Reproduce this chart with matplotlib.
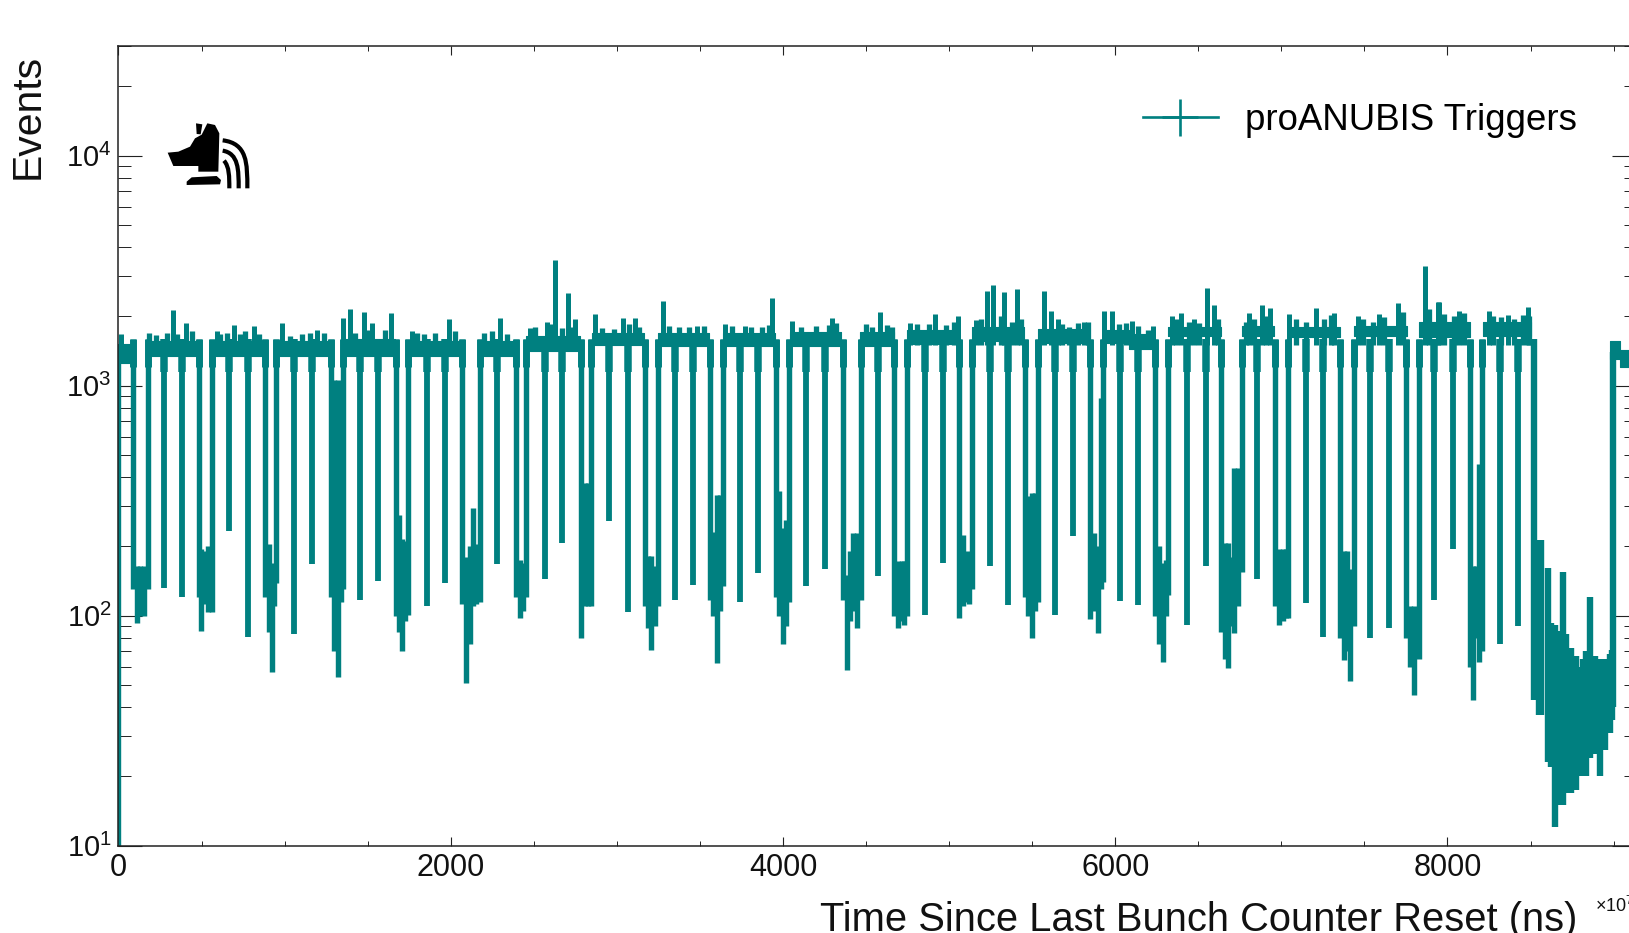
import matplotlib
matplotlib.use("Agg")
import matplotlib.pyplot as plt
import numpy as np
from matplotlib.patches import PathPatch, Polygon
from matplotlib.path import Path
from matplotlib.ticker import LogLocator, MultipleLocator, NullFormatter
from matplotlib.transforms import Affine2D

TEAL = "#008080"
X_LABEL = "Time Since Last Bunch Counter Reset (ns)"
Y_LABEL = "Events"
LEGEND_LABEL = "proANUBIS Triggers"

# Plateau bands between the long gaps (start, stop in time, lowest and highest counts)
band_start = [0, 165, 565, 945, 1345, 1735, 2165, 2445, 2840, 3235, 3625, 4025, 4445, 4725, 5115,
              5515, 5905, 6060, 6295, 6735, 7015, 7405, 7795, 8180, 8945, 9000]
band_stop = [92, 470, 860, 1270, 1660, 2060, 2380, 2770, 3150, 3540, 3935, 4330, 4650, 5040, 5430,
             5820, 6060, 6205, 6610, 6930, 7325, 7725, 8105, 8470, 9000, 9110]
band_low = [1250, 1340, 1340, 1340, 1340, 1340, 1350, 1420, 1500, 1480, 1480, 1490, 1480, 1520, 1560,
            1530, 1540, 1450, 1640, 1650, 1620, 1640, 1630, 1640, 1300, 1200]
band_high = [1520, 1560, 1570, 1570, 1600, 1570, 1560, 1650, 1700, 1700, 1700, 1710, 1710, 1740, 1790,
             1760, 1740, 1670, 1790, 1810, 1790, 1820, 1900, 1890, 1560, 1430]

# Single isolated dips: time of the dip, lowest count
dip_times = [275, 381, 665, 775, 1055, 1163, 1445, 1555, 1849, 1955, 2269, 2555, 2659, 2943, 3055,
             3335, 3445, 3725, 3835, 4125, 4235, 4553, 4833, 4943, 5223, 5333, 5613, 5725, 6003,
             6113, 6405, 6519, 6829, 7119, 7219, 7503, 7619, 7890, 8000, 8284, 8390]
dip_floor = [132, 121, 233, 81, 83, 167, 117, 141, 110, 139, 167, 144, 207, 257, 104,
             117, 136, 114, 153, 134, 160, 148, 101, 170, 165, 111, 101, 221, 116,
             111, 91, 165, 144, 113, 81, 80, 88, 117, 194, 75, 90]

# Long gaps: vertical extents of the dense structure
gap_times = [85, 110, 130, 150, 175,
             483, 497, 515, 535, 562,
             880, 900, 919, 935, 945,
             1275, 1295, 1315, 1335, 1345,
             1662, 1682, 1702, 1718, 1735,
             2062, 2085, 2105, 2125, 2145, 2165,
             2382, 2405, 2425, 2445,
             2772, 2797, 2815, 2835,
             3155, 3175, 3195, 3215, 3235,
             3545, 3565, 3587, 3605, 3625,
             3945, 3962, 3985, 4005, 4022,
             4342, 4365, 4385, 4405, 4425, 4450,
             4652, 4675, 4695, 4712, 4727,
             5040, 5065, 5085, 5098, 5115,
             5435, 5455, 5475, 5495, 5512,
             5825, 5848, 5873, 5890, 5905,
             6212, 6240, 6263, 6280, 6293,
             6612, 6635, 6650, 6670, 6690, 6712, 6735,
             6932, 6960, 6980, 7000, 7015,
             7325, 7345, 7363, 7381, 7405,
             7722, 7745, 7769, 7797,
             8103, 8120, 8140, 8160, 8178]
gap_low = [130, 93, 100, 100, 130,
           120, 86, 112, 104, 104,
           121, 85, 57, 110, 139,
           120, 70, 54, 115, 130,
           100, 85, 70, 95, 101,
           112, 51, 75, 110, 112, 115,
           120, 98, 105, 120,
           80, 110, 110, 110,
           110, 88, 71, 90, 110,
           117, 100, 62, 105, 134,
           120, 100, 75, 90, 115,
           117, 58, 95, 105, 88, 117,
           100, 88, 95, 91, 100,
           98, 110, 115, 112, 130,
           120, 100, 80, 105, 115,
           97, 105, 84, 130, 140,
           100, 75, 63, 100, 123,
           85, 65, 59, 90, 84, 110, 155,
           110, 91, 95, 98, 98,
           80, 64, 70, 52, 90,
           80, 60, 45, 65,
           60, 43, 80, 63, 70]
gap_high = [1600, 164, 165, 165, 1600,
            1600, 194, 190, 200, 1600,
            1600, 204, 135, 170, 1600,
            1600, 1062, 1062, 180, 1600,
            1600, 275, 215, 210, 1600,
            1600, 180, 200, 294, 205, 1600,
            1600, 175, 170, 1600,
            1600, 378, 378, 1600,
            1600, 181, 181, 165, 1600,
            1600, 230, 336, 336, 1600,
            1600, 347, 240, 260, 1600,
            1600, 150, 190, 229, 229, 1600,
            1600, 172, 172, 172, 1600,
            1600, 225, 190, 170, 1600,
            1600, 330, 342, 342, 1600,
            1600, 229, 200, 885, 1600,
            1600, 200, 170, 175, 1600,
            1600, 207, 207, 180, 439, 439, 1600,
            1600, 195, 195, 195, 1600,
            1600, 190, 190, 160, 1600,
            1600, 110, 110, 1600,
            1600, 165, 165, 454, 1600]

# Spikes rising above the plateau: time, highest count
spike_times = [15, 325, 405, 589, 693, 813, 979, 1189, 1345, 1389, 1469, 1519, 1635, 1759, 1979, 2289,
               2469, 2569, 2619, 2695, 2739, 2855, 3023, 3099, 3263, 3469, 3635, 3759, 3919, 4039,
               4279, 4565, 4745, 4895, 5033, 5139, 5209, 5243, 5309, 5389, 5549, 5589, 5633, 5789,
               5909, 5959, 6079, 6201, 6319, 6373, 6449, 6529, 6569, 6779, 6855, 6905, 7019, 7179,
               7289, 7429, 7559, 7669, 7835, 7909, 7920, 8040, 8220, 8330, 8450]
spike_top = [1680, 2141, 1872, 1724, 1840, 1810, 1872, 1750, 1968, 2150, 2100, 1872, 2080, 1724, 1940, 1968,
             1780, 1900, 3530, 2520, 1950, 2040, 1960, 1960, 2328, 1824, 1862, 1824, 2405, 1905,
             1960, 2083, 1872, 2050, 2000, 1920, 2570, 2750, 2560, 2620, 2570, 2110, 1950, 1900,
             2110, 2110, 1915, 1810, 2000, 2060, 1940, 2660, 2250, 2060, 2250, 2180, 2040, 2180,
             2060, 2010, 2040, 2290, 3330, 2320, 2300, 2120, 2120, 2030, 2200]

# Small bumps on the plateau top: time, highest count
bump_times = [180, 225, 290, 350, 440, 610, 650, 730, 760, 840, 1030, 1100, 1150, 1230,
              1420, 1500, 1600, 1790, 1830, 1900, 2020, 2190, 2240, 2330, 2500, 2600, 2660, 2720,
              2900, 2970, 3060, 3120, 3300, 3360, 3420, 3510, 3680, 3790, 3860, 3900,
              4090, 4180, 4260, 4300, 4480, 4520, 4610, 4635, 4790, 4860, 4960, 5010,
              5170, 5290, 5360, 5410, 5660, 5700, 5750, 5810, 6000, 6040, 6110, 6170,
              6340, 6420, 6480, 6590, 6760, 6810, 6880, 7060, 7120, 7230, 7270,
              7460, 7520, 7590, 7700, 7860, 7950, 8010, 8070, 8240, 8290, 8370, 8420, 8460]
bump_top = [1690, 1660, 1700, 1680, 1720, 1680, 1700, 1670, 1720, 1680, 1650, 1680, 1690, 1700,
            1700, 1740, 1750, 1700, 1680, 1690, 1720, 1700, 1720, 1680, 1800, 1850, 1780, 1800,
            1780, 1760, 1850, 1800, 1820, 1800, 1790, 1810, 1810, 1800, 1790, 1830,
            1790, 1810, 1840, 1880, 1850, 1800, 1830, 1800, 1850, 1860, 1840, 1900,
            1950, 2000, 1900, 1950, 1850, 1800, 1870, 1900, 1850, 1880, 1820, 1750,
            1950, 1900, 1870, 1950, 1900, 1950, 2000, 1950, 1900, 1950, 2030,
            1950, 1900, 1980, 2100, 2150, 2050, 2000, 2080, 2000, 1980, 1950, 2020, 2000]

# Final region with low rate, followed by the recovery
tail_times = [0, 8485, 8530, 8570, 8590, 8610, 8640, 8660, 8680, 8710, 8740, 8760, 8780, 8800, 8820,
              8850, 8884, 8910, 8940, 8955, 8960]
tail_low = [10, 43, 37, 23, 22, 12, 15, 15, 17, 17, 17.4, 20, 20, 20, 24,
            25, 20, 26, 31, 35, 40]
tail_high = [1500, 1600, 214, 161, 93, 91, 86, 155, 83, 72, 67, 60, 65, 70, 120,
             67, 65, 65, 68, 71, 1400]
tail_extra_times = [8505, 8515]
tail_extra_low = [43, 37]
tail_extra_high = [214, 214]

# Axis ticks
x_major_step = 2000
x_minor_step = 500
x_limits = (0, 9135)
y_limits = (10, 30000)
# read-off positions were taken on a slightly different time scale
time_scale = 1.004

# ---------------------------------------------------------------------------
plt.rcParams["font.family"] = ["Liberation Sans", "DejaVu Sans"]
plt.rcParams["mathtext.fontset"] = "custom"
plt.rcParams["mathtext.rm"] = "Liberation Sans"
plt.rcParams["mathtext.it"] = "Liberation Sans:italic"
plt.rcParams["mathtext.bf"] = "Liberation Sans:bold"

W, H = 1629, 933
fig = plt.figure(figsize=(W / 100, H / 100), dpi=100)
left, right, top, bottom = 118.5, 1636.0, 46.0, 845.5
ax = fig.add_axes([left / W, (H - bottom) / H, (right - left) / W, (bottom - top) / H])
ax.set_yscale("log")
ax.set_xlim(*x_limits)
ax.set_ylim(*y_limits)

def T(values):
    return np.asarray(values, dtype=float) * time_scale

for a, b, lo, hi in zip(band_start, band_stop, band_low, band_high):
    ax.fill_between(T([a, b]), [lo, lo], [hi, hi], color=TEAL, lw=0.8, zorder=2)
ax.vlines(T(dip_times), dip_floor, [1600] * len(dip_times), color=TEAL, lw=4.2, capstyle="butt", zorder=2)
ax.vlines(T(dip_times), [1150] * len(dip_times), [1600] * len(dip_times), color=TEAL, lw=5.4, capstyle="butt", zorder=2)
ax.vlines(T(gap_times), gap_low, gap_high, color=TEAL, lw=3.9, capstyle="butt", zorder=2)
wall_times = [t for t, h in zip(gap_times, gap_high) if h == 1600]
ax.vlines(T(wall_times), [1200] * len(wall_times), [1600] * len(wall_times), color=TEAL, lw=5.0, capstyle="butt", zorder=2)
ax.vlines(T(spike_times), [1500] * len(spike_times), spike_top, color=TEAL, lw=3.6, capstyle="butt", zorder=2)
ax.vlines(T(bump_times), [1500] * len(bump_times), bump_top, color=TEAL, lw=3.8, capstyle="butt", zorder=2)
ax.vlines(T(tail_times), tail_low, tail_high, color=TEAL, lw=4.6, capstyle="butt", zorder=2)
ax.vlines(T(tail_extra_times), tail_extra_low, tail_extra_high, color=TEAL, lw=4.6, capstyle="butt", zorder=2)

# Legend entry built from an error-bar artist
proxy = ax.errorbar([], [], xerr=[], yerr=[], color=TEAL, elinewidth=1.9, lw=1.9, label=LEGEND_LABEL)
leg = ax.legend(handles=[proxy], loc="upper left", frameon=False, fontsize=26.4, numpoints=1,
                handlelength=2.05, handletextpad=0.75, borderpad=0, borderaxespad=0,
                bbox_to_anchor=(1142.5 / W, (H - 103) / H), bbox_transform=fig.transFigure)

# Axes styling
ax.xaxis.set_major_locator(MultipleLocator(x_major_step))
ax.xaxis.set_minor_locator(MultipleLocator(x_minor_step))
ax.yaxis.set_major_locator(LogLocator(base=10, numticks=10))
ax.yaxis.set_minor_locator(LogLocator(base=10, subs=range(2, 10), numticks=20))
ax.yaxis.set_minor_formatter(NullFormatter())
ax.tick_params(axis="x", which="major", direction="in", top=True, bottom=True, length=6.5, width=0.8,
               color="#222222", labelsize=22, pad=5.4, labelcolor="#111111")
ax.tick_params(axis="x", which="minor", direction="in", top=True, bottom=True, length=3.3, width=0.7,
               color="#222222")
ax.tick_params(axis="y", which="major", direction="in", left=True, right=True, length=17.5, width=0.8,
               color="#222222", labelsize=21, pad=5, labelcolor="#111111")
ax.tick_params(axis="y", which="minor", direction="in", left=True, right=True, length=9, width=0.7,
               color="#222222")
for s in ax.spines.values():
    s.set_linewidth(1.1)
    s.set_color("#222222")

ax.set_xlabel(X_LABEL, fontsize=28.7, loc="right", color="#111111", va="baseline")
ax.xaxis.set_label_coords((1577 - left) / (right - left), -(931 - bottom) / (bottom - top))
ax.set_ylabel(Y_LABEL, fontsize=29.4, loc="top", color="#111111", va="baseline")
ax.yaxis.set_label_coords((39 - left) / (right - left), (bottom - 54) / (bottom - top))
fig.text(1595 / W, (H - 912) / H, r"$\mathdefault{\times 10^{7}}$", fontsize=13, color="#111111", va="baseline")

# Logo: dog head with signal arcs, in pixel coordinates of a 3x crop starting at (0, 30)
logo_tf = Affine2D().scale(1 / 3, -1 / 3).translate(0, H - 30)
head = [(503, 368), (535, 365), (570, 350), (585, 325), (605, 314), (622, 280), (645, 285), (658, 310),
        (655, 425), (595, 425), (595, 408), (520, 408)]
ear = [(588, 280), (607, 283), (602, 313), (590, 312)]
base = [(560, 455), (575, 442), (650, 438), (663, 450), (660, 463), (560, 465)]
for pts in (head, ear, base):
    fig.add_artist(Polygon(pts, closed=True, facecolor="black", edgecolor="none", transform=logo_tf))
arcs = [[(668, 331), (742, 340), (742, 400), (742, 475)],
        [(668, 362), (716, 370), (716, 420), (716, 475)],
        [(672, 392), (688, 410), (688, 440), (688, 475)]]
for pts in arcs:
    path = Path(pts, [Path.MOVETO, Path.CURVE4, Path.CURVE4, Path.CURVE4])
    fig.add_artist(PathPatch(path, facecolor="none", edgecolor="black", lw=3.0, capstyle="butt", transform=logo_tf))

fig.savefig("out.png", dpi=100)
